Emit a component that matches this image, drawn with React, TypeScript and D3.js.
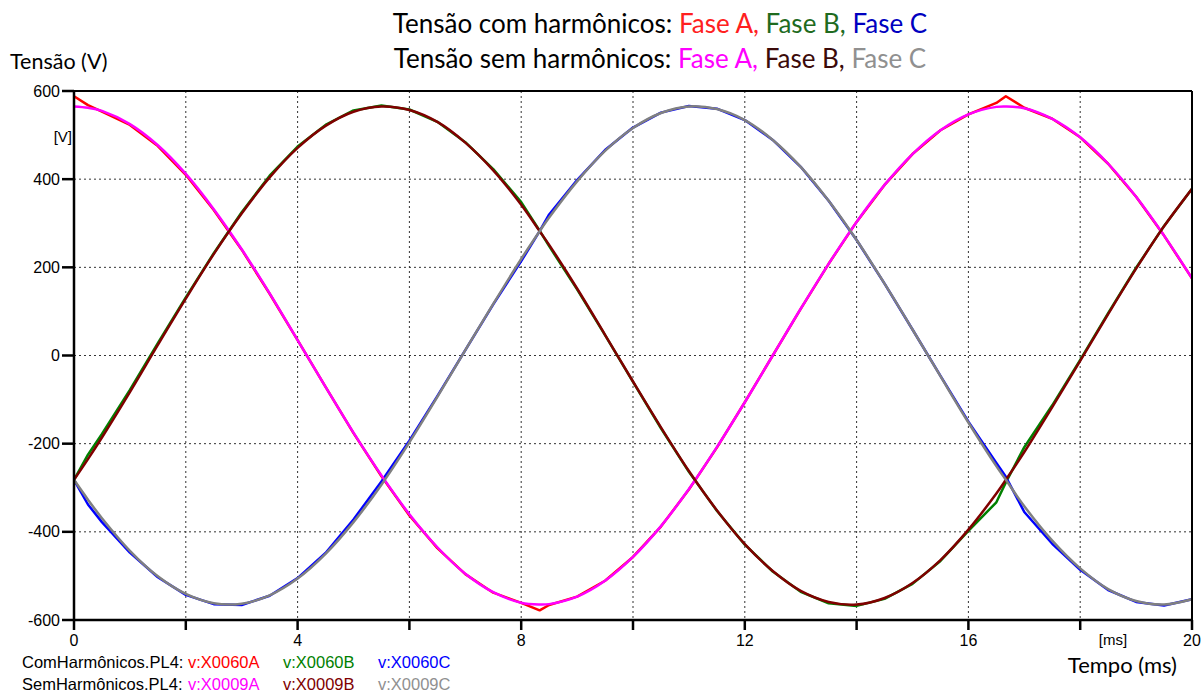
import React from "react";
import * as d3 from "d3";

const TIME_MS = [0, 0.25, 0.5, 1, 1.5, 2, 2.5, 3, 3.5, 4, 4.5, 5, 5.5, 6, 6.5, 7, 7.5, 8, 8.33, 8.5, 9, 9.5, 10, 10.5, 11, 11.5, 12, 12.5, 13, 13.5, 14, 14.5, 15, 15.5, 16, 16.5, 16.67, 17, 17.5, 18, 18.5, 19, 19.5, 20];

const COM_A = [588, 568, 553, 523, 475, 410, 330, 240, 140, 35, -71, -176, -274, -363, -437, -496, -538, -561, -578, -566, -547, -511, -457, -388, -304, -209, -106, 0, 106, 208, 303, 387, 457, 511, 547, 573, 588, 562, 537, 495, 435, 360, 272, 175];
const COM_B = [-282, -225, -178, -78, 28, 132, 232, 325, 408, 474, 523, 556, 567, 558, 530, 484, 423, 348, 283, 248, 150, 46, -60, -165, -264, -352, -429, -490, -536, -562, -568, -552, -518, -466, -398, -333, -288, -208, -113, -10, 96, 199, 294, 378];
const COM_C = [-282, -338, -378, -447, -503, -543, -564, -566, -545, -505, -448, -372, -286, -193, -92, 12, 116, 214, 282, 320, 398, 466, 517, 551, 566, 560, 534, 489, 428, 351, 262, 163, 59, -46, -150, -244, -275, -355, -427, -486, -532, -559, -567, -553];
const SEM_A = [565, 562, 555, 525, 477, 412, 332, 241, 141, 35, -71, -175, -272, -360, -435, -495, -537, -561, -565, -564, -547, -511, -457, -387, -303, -208, -106, 0, 106, 208, 303, 387, 457, 511, 547, 564, 565, 561, 537, 495, 435, 360, 272, 175];
const SEM_B = [-282, -235, -186, -83, 24, 129, 230, 322, 404, 471, 521, 553, 565, 557, 530, 483, 420, 342, 282, 251, 152, 47, -59, -163, -262, -351, -428, -489, -534, -559, -565, -550, -516, -464, -395, -313, -282, -219, -117, -12, 94, 197, 293, 378];
const SEM_C = [-282, -327, -369, -443, -501, -541, -562, -563, -544, -506, -450, -378, -293, -197, -94, 12, 117, 219, 282, 313, 395, 464, 516, 550, 565, 559, 534, 489, 428, 351, 262, 163, 59, -47, -152, -251, -282, -342, -420, -483, -530, -557, -565, -553];

const X_TICKS = [0, 2, 4, 6, 8, 10, 12, 14, 16, 18, 20];
const X_LABELS = [0, 4, 8, 12, 16, 20];
const Y_TICKS = [-600, -400, -200, 0, 200, 400, 600];

const SERIES = [
  { name: "v:X0060A", values: COM_A, color: "#ff0000", smooth: false },
  { name: "v:X0060B", values: COM_B, color: "#008000", smooth: false },
  { name: "v:X0060C", values: COM_C, color: "#0000ff", smooth: false },
  { name: "v:X0009A", values: SEM_A, color: "#ff00ff", smooth: true },
  { name: "v:X0009B", values: SEM_B, color: "#800000", smooth: true },
  { name: "v:X0009C", values: SEM_C, color: "#808080", smooth: true },
];

const TITLE_1 = [
  { t: "Tensão com harmônicos: ", c: "#000000" },
  { t: "Fase A, ", c: "#ff2020" },
  { t: "Fase B, ", c: "#1f6b1f" },
  { t: "Fase C", c: "#0000c0" },
];
const TITLE_2 = [
  { t: "Tensão sem harmônicos: ", c: "#000000" },
  { t: "Fase A, ", c: "#ff00ff" },
  { t: "Fase B, ", c: "#3b0a0a" },
  { t: "Fase C", c: "#909090" },
];

export default function App() {
  const W = 1203, H = 693;
  const x = d3.scaleLinear().domain([0, 20]).range([74, 1192]);
  const y = d3.scaleLinear().domain([-600, 600]).range([620, 91]);
  const lineLinear = d3
    .line<number>()
    .x((_, i) => x(TIME_MS[i]))
    .y((d) => y(d));
  const lineSmooth = d3
    .line<number>()
    .x((_, i) => x(TIME_MS[i]))
    .y((d) => y(d))
    .curve(d3.curveCatmullRom.alpha(0.5));

  const arial = "'Liberation Sans', Arial, sans-serif";
  const cal = "Lato, 'Open Sans', sans-serif";

  return (
    <div style={{ position: "absolute", left: 0, top: 0, background: "#fff" }}>
      <svg width={W} height={H} style={{ display: "block", background: "#fff" }}>
        {/* grid */}
        {X_TICKS.filter((t) => t > 0 && t < 20).map((t) => (
          <line key={"gx" + t} x1={x(t)} x2={x(t)} y1={y(600)} y2={y(-600)} stroke="#333" strokeWidth={1} strokeDasharray="2,3" />
        ))}
        {Y_TICKS.filter((t) => t > -600 && t < 600).map((t) => (
          <line key={"gy" + t} x1={x(0)} x2={x(20)} y1={y(t)} y2={y(t)} stroke="#333" strokeWidth={1} strokeDasharray="2,3" />
        ))}
        {/* curves */}
        {SERIES.map((s) => (
          <path key={s.name} d={(s.smooth ? lineSmooth : lineLinear)(s.values) || ""} fill="none" stroke={s.color} strokeWidth={2.5} strokeLinejoin="round" />
        ))}
        {/* frame */}
        <line x1={x(0)} x2={x(20)} y1={y(600)} y2={y(600)} stroke="#000" strokeWidth={2} />
        <line x1={x(20)} x2={x(20)} y1={y(600)} y2={y(-600)} stroke="#000" strokeWidth={2} />
        <line x1={x(0)} x2={x(0)} y1={y(600) - 1} y2={y(-600) + 1} stroke="#000" strokeWidth={2.5} />
        <line x1={x(0) - 1} x2={x(20) + 1} y1={y(-600)} y2={y(-600)} stroke="#000" strokeWidth={2.5} />
        {/* y ticks */}
        {Y_TICKS.map((t) => (
          <g key={"yt" + t}>
            <line x1={x(0) - 12} x2={x(0)} y1={y(t)} y2={y(t)} stroke="#000" strokeWidth={2.5} />
            <text x={60} y={y(t) + 5.5} textAnchor="end" fontFamily={arial} fontSize={16} fill="#000">
              {t}
            </text>
          </g>
        ))}
        <text x={72} y={142} textAnchor="end" fontFamily={arial} fontSize={15} fill="#000">[V]</text>
        {/* x ticks */}
        {X_TICKS.map((t) => (
          <line key={"xt" + t} x1={x(t)} x2={x(t)} y1={y(-600)} y2={y(-600) + 10} stroke="#000" strokeWidth={2.5} />
        ))}
        {X_LABELS.map((t) => (
          <text key={"xl" + t} x={x(t)} y={646} textAnchor="middle" fontFamily={arial} fontSize={16} fill="#000">
            {t}
          </text>
        ))}
        <text x={1113} y={645} textAnchor="middle" fontFamily={arial} fontSize={15} fill="#000">[ms]</text>
        {/* axis titles */}
        <text x={10} y={69} fontFamily={cal} fontSize={21.5} fill="#000">Tensão (V)</text>
        <text x={1177} y={673} textAnchor="end" fontFamily={cal} fontSize={22} fill="#000">Tempo (ms)</text>
        {/* title */}
        <text x={660} y={33} textAnchor="middle" fontFamily={cal} fontSize={26}>
          {TITLE_1.map((p, i) => (
            <tspan key={i} fill={p.c} style={{ whiteSpace: "pre" }}>{p.t}</tspan>
          ))}
        </text>
        <text x={660} y={68} textAnchor="middle" fontFamily={cal} fontSize={26}>
          {TITLE_2.map((p, i) => (
            <tspan key={i} fill={p.c} style={{ whiteSpace: "pre" }}>{p.t}</tspan>
          ))}
        </text>
        {/* legend */}
        <text x={22} y={668} fontFamily={arial} fontSize={16.5} fill="#000">ComHarmônicos.PL4:</text>
        <text x={22} y={690} fontFamily={arial} fontSize={16.5} fill="#000">SemHarmônicos.PL4:</text>
        {SERIES.map((s, i) => (
          <text key={"lg" + s.name} x={188 + (i % 3) * 95} y={i < 3 ? 668 : 690} fontFamily={arial} fontSize={16.5} fill={s.color === "#808080" ? "#909090" : s.color}>
            {s.name}
          </text>
        ))}
      </svg>
    </div>
  );
}
